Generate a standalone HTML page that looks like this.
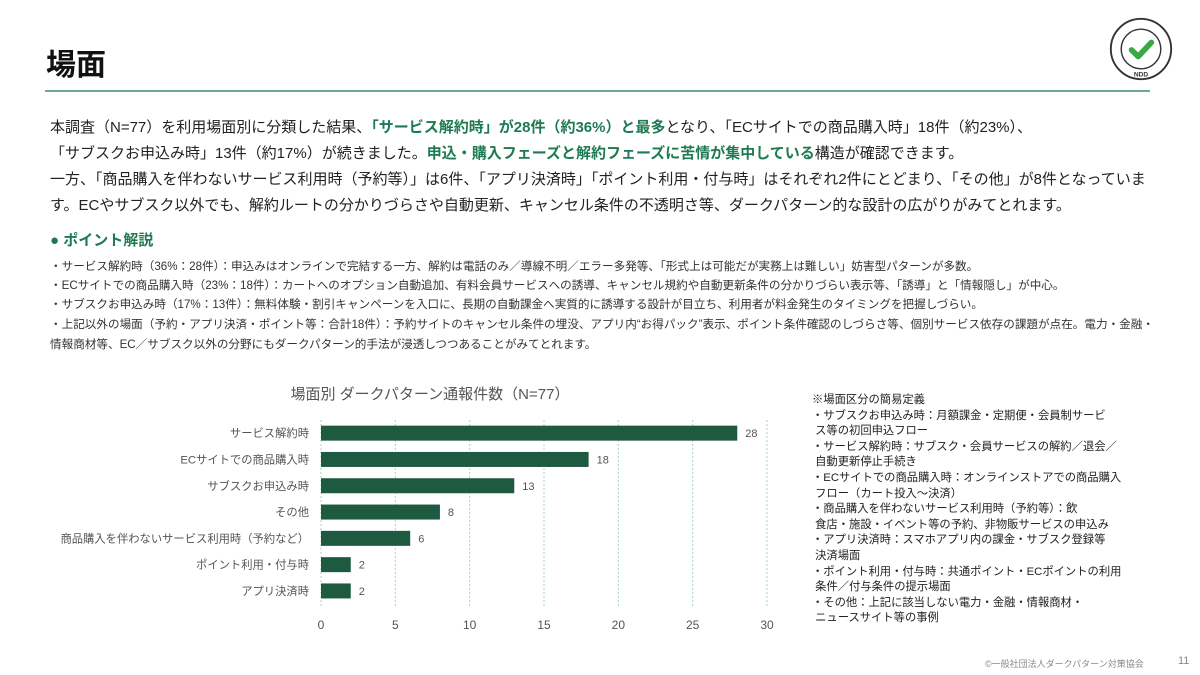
<!DOCTYPE html>
<html><head><meta charset="utf-8">
<style>
body{margin:0;width:1200px;height:675px;background:#fff;font-family:"Liberation Sans","Noto Sans CJK JP",sans-serif;color:#222;position:relative;overflow:hidden}
.abs{position:absolute;white-space:nowrap}
.g{color:#1e7a52;font-weight:bold}
.p{font-size:15px;left:50px}
.b{font-size:11.6px;left:50px;color:#333}
.d{font-size:11.3px;left:812px;color:#222;line-height:15.6px}
</style></head><body>
<div class="abs" style="left:46px;top:40px;font-size:30px;font-weight:bold;color:#111">場面</div>
<div class="abs" style="left:45px;top:90px;width:1105px;height:2px;background:#6aaa8e"></div>
<svg class="abs" style="left:1108px;top:16px" width="66" height="66" viewBox="0 0 70 70">
<circle cx="35" cy="35" r="32" fill="none" stroke="#333" stroke-width="2"/>
<circle cx="35" cy="35" r="21" fill="none" stroke="#333" stroke-width="1.5"/>
<path d="M25 36 L32 43 L46 28" fill="none" stroke="#3aa845" stroke-width="6" stroke-linecap="round" stroke-linejoin="round"/>
<text x="35" y="64" font-size="7" text-anchor="middle" font-weight="bold" fill="#333">NDD</text>
</svg>
<div class="abs p" style="top:116px">本調査（N=77）を利用場面別に分類した結果、<span class="g">「サービス解約時」が28件（約36%）と最多</span>となり、「ECサイトでの商品購入時」18件（約23%）、</div>
<div class="abs p" style="top:142px">「サブスクお申込み時」13件（約17%）が続きました。<span class="g">申込・購入フェーズと解約フェーズに苦情が集中している</span>構造が確認できます。</div>
<div class="abs p" style="top:168px">一方、「商品購入を伴わないサービス利用時（予約等）」は6件、「アプリ決済時」「ポイント利用・付与時」はそれぞれ2件にとどまり、「その他」が8件となっていま</div>
<div class="abs p" style="top:194px">す。ECやサブスク以外でも、解約ルートの分かりづらさや自動更新、キャンセル条件の不透明さ等、ダークパターン的な設計の広がりがみてとれます。</div>
<div class="abs" style="left:50px;top:229px;font-size:15px;color:#1e7a52;font-weight:bold">● ポイント解説</div>
<div class="abs b" style="top:258px">・サービス解約時（36%：28件）：申込みはオンラインで完結する一方、解約は電話のみ／導線不明／エラー多発等、「形式上は可能だが実務上は難しい」妨害型パターンが多数。</div>
<div class="abs b" style="top:277px">・ECサイトでの商品購入時（23%：18件）：カートへのオプション自動追加、有料会員サービスへの誘導、キャンセル規約や自動更新条件の分かりづらい表示等、「誘導」と「情報隠し」が中心。</div>
<div class="abs b" style="top:296px">・サブスクお申込み時（17%：13件）：無料体験・割引キャンペーンを入口に、長期の自動課金へ実質的に誘導する設計が目立ち、利用者が料金発生のタイミングを把握しづらい。</div>
<div class="abs b" style="top:316px">・上記以外の場面（予約・アプリ決済・ポイント等：合計18件）：予約サイトのキャンセル条件の埋没、アプリ内“お得パック”表示、ポイント条件確認のしづらさ等、個別サービス依存の課題が点在。電力・金融・</div>
<div class="abs b" style="top:336px">情報商材等、EC／サブスク以外の分野にもダークパターン的手法が浸透しつつあることがみてとれます。</div>

<svg class="abs" id="chart" style="left:0;top:370px" width="800" height="270"></svg>

<div class="abs d" style="top:393px">※場面区分の簡易定義<br>・サブスクお申込み時：月額課金・定期便・会員制サービ<br>&nbsp;ス等の初回申込フロー<br>・サービス解約時：サブスク・会員サービスの解約／退会／<br>&nbsp;自動更新停止手続き<br>・ECサイトでの商品購入時：オンラインストアでの商品購入<br>&nbsp;フロー（カート投入～決済）<br>・商品購入を伴わないサービス利用時（予約等）：飲<br>&nbsp;食店・施設・イベント等の予約、非物販サービスの申込み<br>・アプリ決済時：スマホアプリ内の課金・サブスク登録等<br>&nbsp;決済場面<br>・ポイント利用・付与時：共通ポイント・ECポイントの利用<br>&nbsp;条件／付与条件の提示場面<br>・その他：上記に該当しない電力・金融・情報商材・<br>&nbsp;ニュースサイト等の事例</div>
<div class="abs" style="left:985px;top:657px;font-size:9px;color:#888">©一般社団法人ダークパターン対策協会</div>
<div class="abs" style="left:1178px;top:655px;font-size:11px;color:#888">11</div>
<script>
const categories=["サービス解約時","ECサイトでの商品購入時","サブスクお申込み時","その他","商品購入を伴わないサービス利用時（予約など）","ポイント利用・付与時","アプリ決済時"];
const values=[28,18,13,8,6,2,2];
const ticks=[0,5,10,15,20,25,30];
const svg=document.getElementById('chart');
const NS='http://www.w3.org/2000/svg';
const x0=321,x1=767,top0=50,step=26.3,bh=15;
const xs=v=>x0+(x1-x0)*v/30;
function mk(t,a,txt){const e=document.createElementNS(NS,t);for(const k in a)e.setAttribute(k,a[k]);if(txt!==undefined)e.textContent=txt;svg.appendChild(e);return e;}
let t=mk('text',{x:430,y:29,'font-size':15,fill:'#555','text-anchor':'middle'},'場面別 ダークパターン通報件数（N=77）');


ticks.forEach(v=>{
 let l=mk('line',{x1:xs(v),x2:xs(v),y1:top0,y2:top0+step*7+2,stroke:'#a9d3c7','stroke-dasharray':'2,2'});
 
 
 let tx=mk('text',{x:xs(v),y:259,'font-size':12,fill:'#555','text-anchor':'middle'},String(v));
 
 
});
categories.forEach((c,i)=>{
 const cy=top0+step*i+step/2;
 let r=mk('rect',{x:x0,y:cy-bh/2,width:xs(values[i])-x0,height:bh,fill:'#1d5a40'});
 
 
 let lb=mk('text',{x:x0-12,y:cy+4,'font-size':11.3,fill:'#555','text-anchor':'end'},c);
 
 
 let vl=mk('text',{x:xs(values[i])+8,y:cy+4,'font-size':11,fill:'#555'},String(values[i]));
 
 
});
</script>
</body></html>
